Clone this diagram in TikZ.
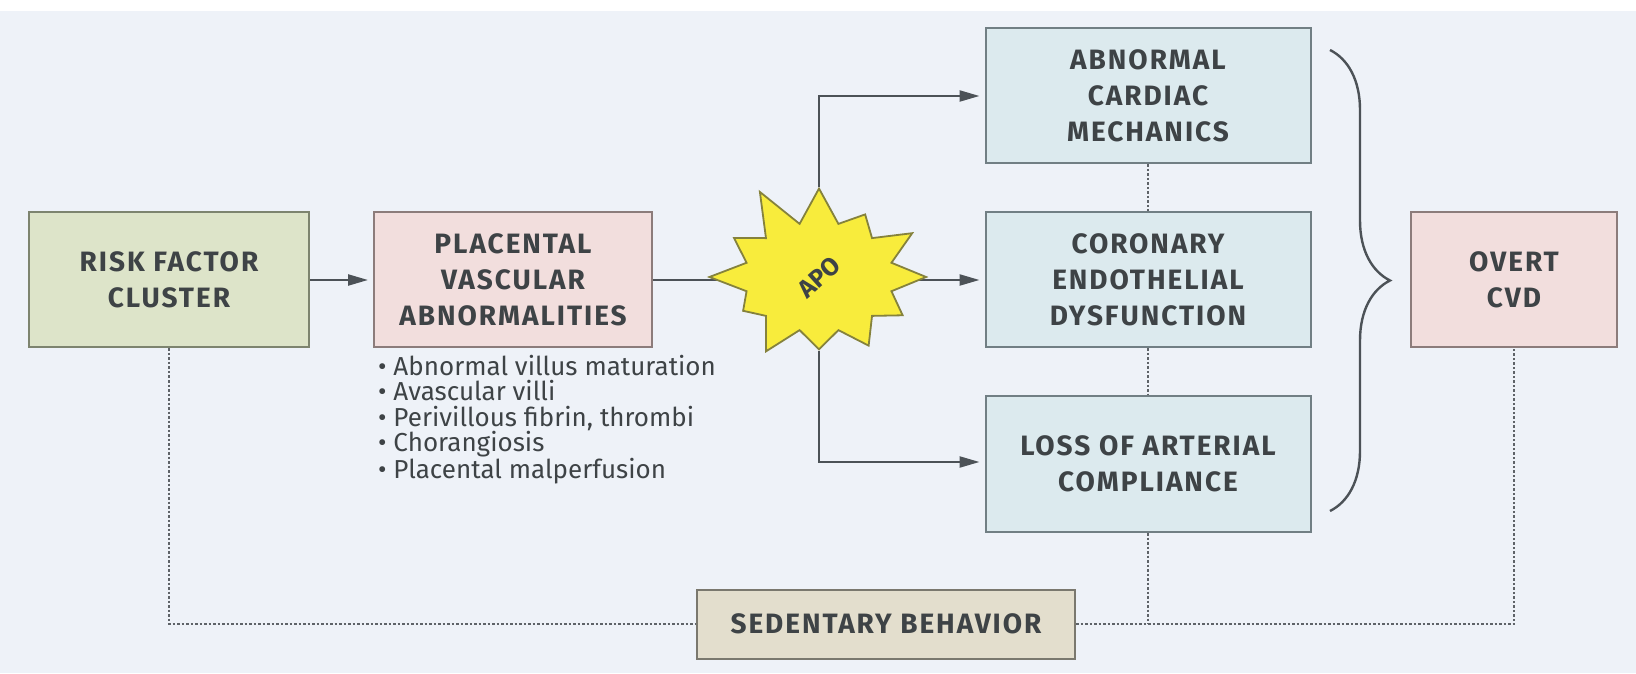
\documentclass[tikz,border=0pt]{standalone}
\usepackage{fontspec}
\setmainfont{Fira Sans}
\usetikzlibrary{arrows.meta,shapes.symbols,decorations.pathreplacing}
\definecolor{bgcol}{HTML}{EEF2F8}
\definecolor{inkcol}{HTML}{3E4346}
\definecolor{linecol}{HTML}{4C5257}
\definecolor{riskfill}{HTML}{DDE4C9}
\definecolor{riskdraw}{HTML}{7D846F}
\definecolor{pinkfill}{HTML}{F2DEDD}
\definecolor{pinkdraw}{HTML}{8C7C7B}
\definecolor{bluefill}{HTML}{DCEAEE}
\definecolor{bluedraw}{HTML}{717F84}
\definecolor{sedfill}{HTML}{E3DECD}
\definecolor{seddraw}{HTML}{7A786E}
\definecolor{starfill}{HTML}{F8EC3C}
\definecolor{stardraw}{HTML}{85823C}
\newcommand{\boxfont}{\fontsize{28}{36}\selectfont\bfseries\addfontfeatures{LetterSpace=7}}
\newcommand{\listfont}{\fontsize{26}{25.3}\selectfont}

\begin{document}
\begin{tikzpicture}[x=1pt,y=1pt,
box/.style={draw, line width=2pt, minimum height=135pt, inner sep=0pt, align=center, font=\boxfont, text=inkcol},
riskbox/.style={box, fill=riskfill, draw=riskdraw, minimum width=280pt},
pinkbox/.style={box, fill=pinkfill, draw=pinkdraw},
bluebox/.style={box, fill=bluefill, draw=bluedraw, minimum width=325pt},
sedbox/.style={box, fill=sedfill, draw=seddraw, minimum width=378pt, minimum height=69pt},
apostar/.style={starburst, starburst points=12, starburst point height=45pt, random starburst=11, minimum width=240pt, minimum height=200pt, fill=starfill, draw=stardraw, line width=1.8pt, inner sep=0pt, font=\fontsize{25}{28}\selectfont\bfseries, text=inkcol},
arr/.style={draw=linecol, line width=2.3pt, -{Triangle[length=20pt,width=11pt]}, shorten >=5pt},
dotline/.style={draw=linecol!90, line width=1.6pt, dash pattern=on 2.5pt off 2pt}]
\useasboundingbox (0,0) rectangle (1636,673);
\fill[white] (0,0) rectangle (1636,673);
\fill[bgcol] (0,0) rectangle (1636,662);
% boxes
\node[riskbox] (risk) at (169,393) {RISK FACTOR\\CLUSTER};
\node[pinkbox, minimum width=278pt] (placental) at (513,393) {PLACENTAL\\VASCULAR\\ABNORMALITIES};
\node[anchor=north west, align=left, font=\listfont, text=inkcol, inner sep=0pt] (lesions) at (378,318)
  {\textbullet\ Abnormal villus maturation\\\textbullet\ Avascular villi\\\textbullet\ Perivillous fibrin, thrombi\\\textbullet\ Chorangiosis\\\textbullet\ Placental malperfusion};
\node[bluebox] (cardiac) at (1148,577) {ABNORMAL\\CARDIAC\\MECHANICS};
\node[bluebox] (coronary) at (1148,393) {CORONARY\\ENDOTHELIAL\\DYSFUNCTION};
\node[bluebox, minimum height=136pt] (arterial) at (1148,209) {LOSS OF ARTERIAL\\COMPLIANCE};
\node[pinkbox, minimum width=206pt] (overt) at (1514,393) {OVERT\\CVD};
\node[sedbox] (sedentary) at (886,49) {SEDENTARY BEHAVIOR};
% arrows
\draw[arr] (risk) -- (placental);
\draw[arr] (placental) -- (coronary);
\node[apostar] (apo) at (819,396) {\rotatebox{42}{APO}};
\draw[arr] (apo) |- (cardiac);
\draw[arr] (apo) |- (arterial.west |- 0,211);
% dotted links
\coordinate (join) at (arterial.south |- sedentary.east);
\draw[dotline] (cardiac) -- (coronary);
\draw[dotline] (coronary) -- (arterial);
\draw[dotline] (arterial) -- (join);
\draw[dotline] (risk.south) |- (sedentary.west);
\draw[dotline] (sedentary.east) -| (overt.south);
% brace
\draw[draw=linecol, line width=2.4pt, decorate, decoration={brace, amplitude=60pt}] (1330,623) -- (1330,162);
\end{tikzpicture}
\end{document}
